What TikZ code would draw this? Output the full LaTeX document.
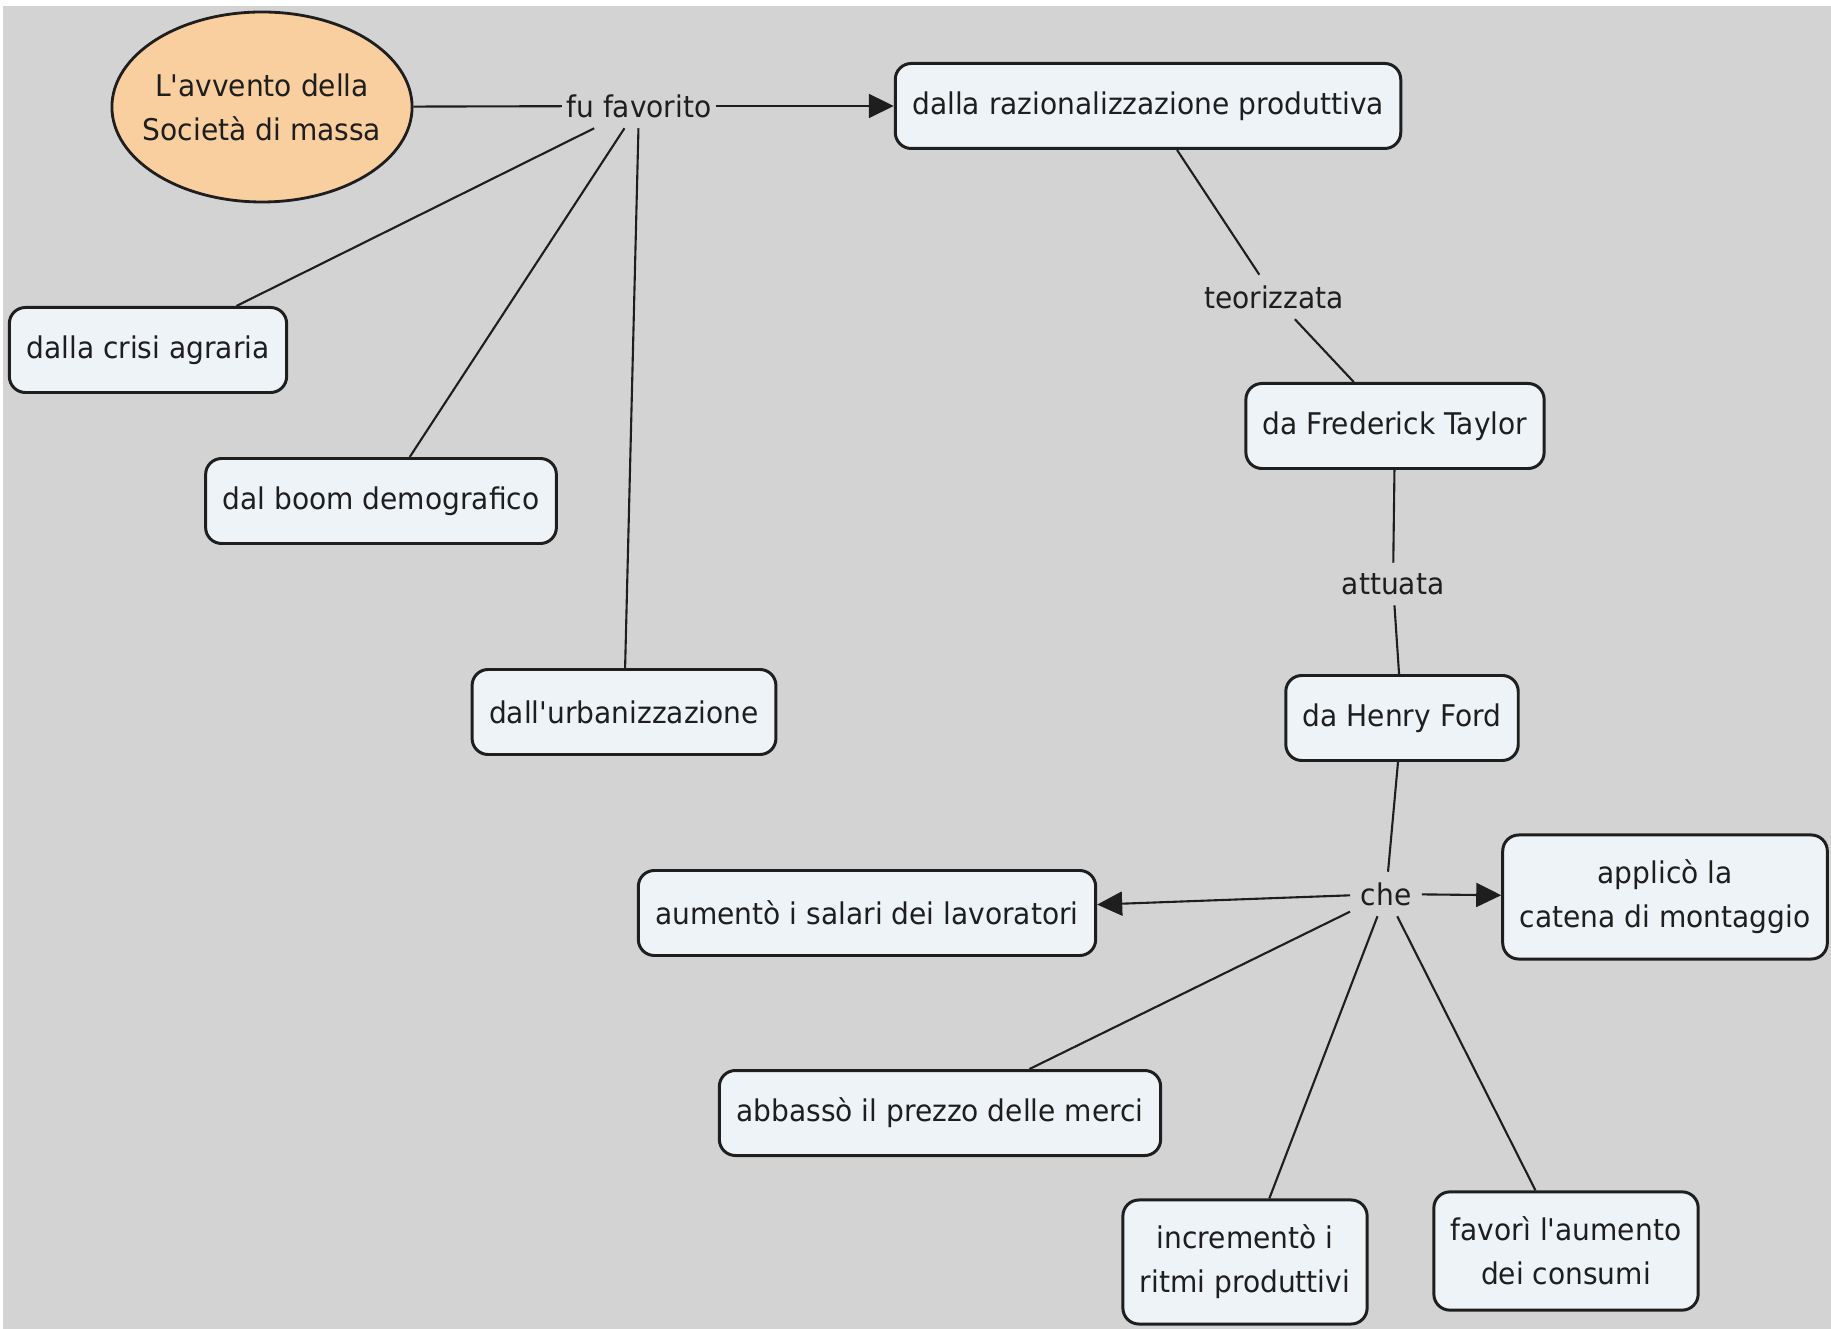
\documentclass[tikz,border=0pt]{standalone}
\usepackage{fontspec}
\setmainfont{DejaVu Sans}[FakeStretch=0.94, Ligatures=TeXOff]
\usepackage{tikz}
\usetikzlibrary{shapes.geometric, arrows.meta, positioning}

\definecolor{sfondo}{RGB}{211,211,211}
\definecolor{nodofill}{RGB}{238,243,247}
\definecolor{radice}{RGB}{249,207,160}
\definecolor{inchiostro}{RGB}{30,30,30}

\begin{document}
\begin{tikzpicture}[
    every node/.style={font=\fontsize{8.5}{12.5}\selectfont, text=inchiostro},
    radix/.style={draw, ellipse, minimum width=2.98cm, minimum height=1.9cm, inner xsep=-0.13cm, inner ysep=0.1cm, align=center, fill=radice, draw=inchiostro, line width=0.8pt},
    concept/.style={draw, rectangle, rounded corners=0.16cm, minimum height=0.85cm, inner xsep=0.17cm, inner ysep=0.25cm, align=center, fill=nodofill, draw=inchiostro, line width=0.85pt},
    frase/.style={inner xsep=0.04cm, inner ysep=0.1cm},
    link/.style={line width=0.6pt, draw=inchiostro},
    arr/.style={-{Triangle[length=0.25cm, width=0.24cm]}, line width=0.6pt, draw=inchiostro}
]

% ===== Sfondo =====
\useasboundingbox (0,0) rectangle (18.31,-13.29);
\fill[white] (0,0) rectangle (18.31,-13.29);
\fill[sfondo] (0.03,-0.06) rectangle (18.31,-13.29);

% ===== Parte sinistra: cause =====
\node[radix] (soc) at (2.62,-1.07) {L'avvento della\\Società di massa};
\node[frase] (fu) at (6.39,-1.06) {fu favorito};
\node[concept] (raz) at (11.48,-1.06) {dalla razionalizzazione produttiva};
\node[concept] (crisi) at (1.48,-3.50) {dalla crisi agraria};
\node[concept] (boom) at (3.81,-5.01) {dal boom demografico};
\node[concept] (urb) at (6.24,-7.12) {dall'urbanizzazione};

% ===== Catena Taylor -> Ford =====
\node[frase] (teo) at (12.74,-2.97) {teorizzata};
\node[concept] (taylor) at (13.95,-4.26) {da Frederick Taylor};
\node[frase] (att) at (13.93,-5.84) {attuata};
\node[concept] (ford) at (14.02,-7.18) {da Henry Ford};

% ===== Effetti =====
\node[frase, inner sep=0.1cm] (che) at (13.86,-8.94) {che};
\node[concept] (appl) at (16.65,-8.97) {applicò la\\catena di montaggio};
\node[concept] (sal) at (8.67,-9.13) {aumentò i salari dei lavoratori};
\node[concept] (prez) at (9.40,-11.13) {abbassò il prezzo delle merci};
\node[concept] (ritmi) at (12.45,-12.62) {incrementò i\\ritmi produttivi};
\node[concept] (cons) at (15.66,-12.51) {favorì l'aumento\\dei consumi};

% ===== Collegamenti =====
\draw[link] (soc) -- (fu);
\draw[arr]  (fu)  -- (raz);
\draw[link] (fu)  -- (crisi);
\draw[link] (fu)  -- (boom);
\draw[link] (fu)  -- (urb);
\draw[link] (raz) -- (teo);
\draw[link] (teo) -- (taylor);
\draw[link] (taylor) -- (att);
\draw[link] (att) -- (ford);
\draw[link] (ford) -- (che);
\draw[arr]  (che) -- (sal);
\draw[arr]  (che) -- (appl);
\draw[link] (che) -- (prez);
\draw[link] (che) -- (ritmi);
\draw[link] (che) -- (cons);

\end{tikzpicture}
\end{document}
